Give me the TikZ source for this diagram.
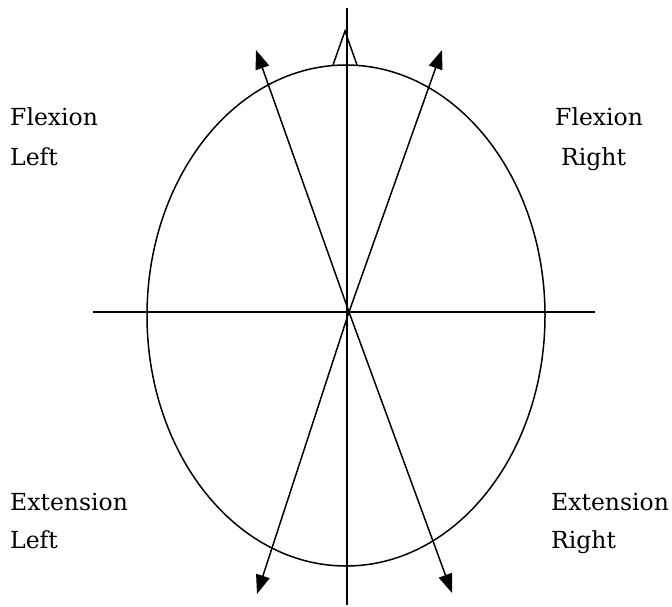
\documentclass[tikz,border=0pt]{standalone}
\usepackage{fontspec}
\setmainfont{DejaVu Serif}
\usetikzlibrary{arrows.meta}
\begin{document}
\begin{tikzpicture}[x=1pt,y=-1pt,
  ln/.style={line width=1.5pt},
  arr/.style={ln,-{Triangle[length=19pt,width=14pt]}},
  lbl/.style={anchor=base west,inner sep=0pt,font=\fontsize{23.5}{28}\selectfont}]
\useasboundingbox (0,0) rectangle (672,607);
\coordinate (c) at (349,312);
\coordinate (hl) at (93,312);
\coordinate (hr) at (595,312);
\coordinate (vt) at (347,8);
\coordinate (vb) at (347,605);
\coordinate (ul) at (256,50);
\coordinate (ur) at (442,50);
\coordinate (ll) at (257,594);
\coordinate (lr) at (452,593);
\coordinate (na) at (345,31);
\coordinate (nl) at (333,65);
\coordinate (nr) at (357,65);
\draw[ln] (346,315.5) ellipse [x radius=199, y radius=250.5];
\draw[ln] (hl) -- (hr);
\draw[line width=1.1pt] (vt) -- (vb);
\draw[ln] (nl) -- (na) -- (nr);
\draw[arr] (c) -- (ul);
\draw[arr] (c) -- (ur);
\draw[arr] (c) -- (ll);
\draw[arr] (c) -- (lr);
\node[lbl] (fl1) at (10,126) {Flexion};
\node[lbl] (fl2) at (10,165) {Left};
\node[lbl] (fr1) at (555,126) {Flexion};
\node[lbl] (fr2) at (561,165) {Right};
\node[lbl] (el1) at (10,510) {Extension};
\node[lbl] (el2) at (10,548) {Left};
\node[lbl] (er1) at (551,510) {Extension};
\node[lbl] (er2) at (551,548) {Right};
\end{tikzpicture}
\end{document}
